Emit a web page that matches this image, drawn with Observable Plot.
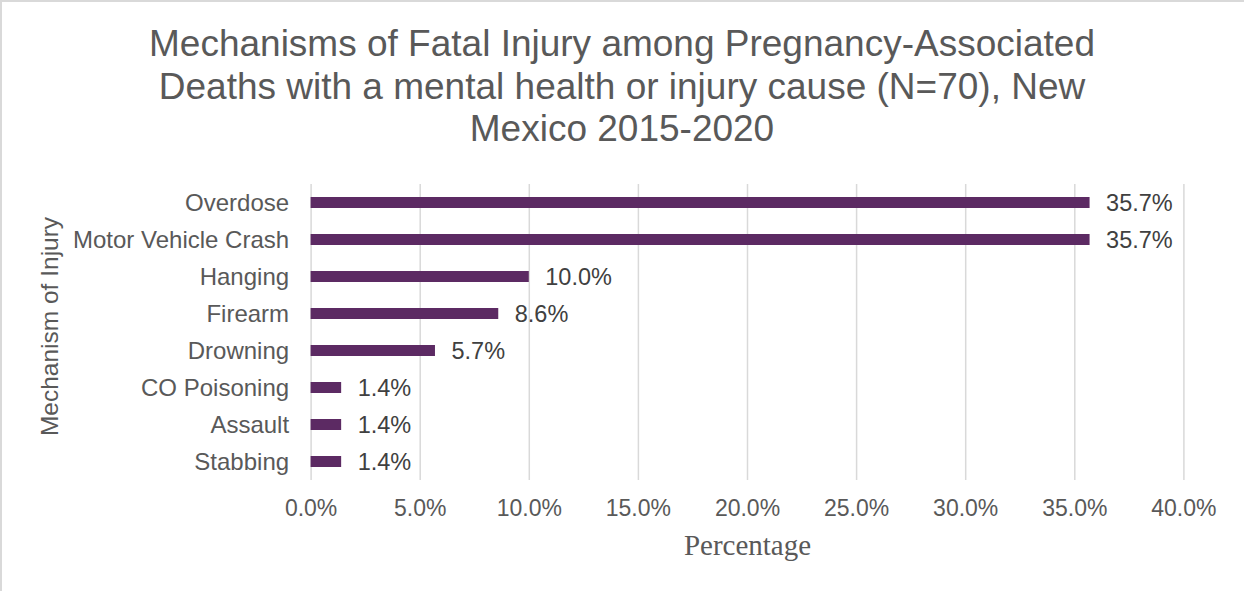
<!DOCTYPE html>
<html>
<head>
<meta charset="utf-8">
<script src="https://cdn.jsdelivr.net/npm/d3@7"></script>
<script src="https://cdn.jsdelivr.net/npm/@observablehq/plot@0.6"></script>
<style>
  html, body { margin: 0; padding: 0; background: #fff; }
  #wrap { position: relative; width: 1244px; height: 591px; overflow: hidden; background: #fff; }
  #title {
    height: 175px; box-sizing: border-box; padding-top: 23px;
    text-align: center; font-family: "Liberation Sans", Arial, sans-serif;
    font-size: 37px; line-height: 42.5px; color: #595959;
  }
  .bl { position: absolute; background: #d9d9d9; z-index: 5; }
</style>
</head>
<body>
<div id="wrap">
  <div class="bl" style="left:0;top:0;width:2px;height:591px"></div>
  <div class="bl" style="left:0;top:0;width:1244px;height:2px"></div>
  <div id="title">Mechanisms of Fatal Injury among Pregnancy-Associated<br>Deaths with a mental health or injury cause (N=70), New<br>Mexico 2015-2020</div>
  <div id="chart"></div>
</div>
<script>
const categories = ["Overdose", "Motor Vehicle Crash", "Hanging", "Firearm", "Drowning", "CO Poisoning", "Assault", "Stabbing"];
const values = [35.7, 35.7, 10.0, 8.6, 5.7, 1.4, 1.4, 1.4];
const xTicks = [0, 5, 10, 15, 20, 25, 30, 35, 40];
const xLabel = "Percentage";
const yLabel = "Mechanism of Injury";

const data = categories.map((c, i) => ({category: c, value: values[i]}));
const fmt = d => d.toFixed(1) + "%";
const barColor = "#5c2a63";

const chart = Plot.plot({
  width: 1244,
  height: 416,
  marginTop: 9,
  marginBottom: 111,
  marginLeft: 310.6,
  marginRight: 60.6,
  style: {
    fontFamily: "'Liberation Sans', Arial, sans-serif",
    fontSize: "23.5px",
    color: "#595959",
    background: "transparent",
    overflow: "visible"
  },
  x: {domain: [0, 40], label: null},
  y: {domain: categories, paddingInner: 0.69, paddingOuter: 0.345, label: null},
  marks: [
    Plot.gridX(xTicks, {stroke: "#d9d9d9", strokeOpacity: 1, strokeWidth: 1.5}),
    Plot.barX(data, {x: "value", y: "category", fill: barColor}),
    Plot.text(data, {x: "value", y: "category", text: d => fmt(d.value), dx: 16, textAnchor: "start", fill: "#404040", fontSize: 23.5}),
    Plot.axisX({ticks: xTicks, tickSize: 0, tickPadding: 19, tickFormat: fmt, fontSize: 23, label: null}),
    Plot.axisY({tickSize: 0, tickPadding: 22, label: null, fontSize: 24}),
    Plot.text([xLabel], {text: d => d, frameAnchor: "bottom", lineAnchor: "middle", textAnchor: "middle", dy: 65, fontFamily: "'Liberation Serif', 'DejaVu Serif', serif", fontSize: 29, fill: "#595959"}),
    Plot.text([yLabel], {text: d => d, frameAnchor: "left", textAnchor: "middle", lineAnchor: "middle", rotate: -90, dx: -261, dy: -6, fontSize: 24.5, fill: "#595959"})
  ]
});
document.getElementById("chart").appendChild(chart);
</script>
</body>
</html>
